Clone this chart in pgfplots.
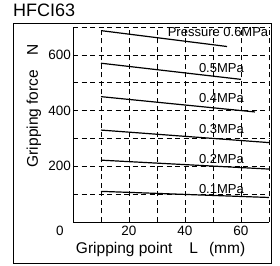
\documentclass[border=0pt]{standalone}
\usepackage{fontspec}
\setmainfont{Liberation Sans}
\usepackage{pgfplots}
\pgfplotsset{compat=1.18}
\begin{document}
\begin{tikzpicture}
\begin{axis}[
  width=196bp, height=195bp, scale only axis,
  xmin=0, xmax=70, ymin=0, ymax=700,
  axis x line=bottom, axis y line=left,
  axis line style={-, line width=0.9bp},
  xtick={20,40,60}, ytick={200,400,600},
  extra x ticks={0},
  extra x tick style={grid=none, xticklabel style={xshift=-13bp}},
  major tick length=0pt,
  grid=none,
  /pgf/number format/assume math mode=true,
  tick label style={font=\fontsize{13.5bp}{15bp}\selectfont},
  xticklabel style={inner sep=0pt, yshift=-4bp},
  yticklabel style={inner sep=0pt, xshift=-2bp},
  xlabel={Gripping point\hspace{17bp}L\hspace{11bp}(mm)},
  ylabel={Gripping force\hspace{14bp}N},
  label style={font=\fontsize{15.5bp}{18bp}\selectfont},
  xlabel style={at={(axis description cs:0.447,-0.14)}, anchor=center},
  ylabel style={at={(axis description cs:-0.2,0.595)}, anchor=center},
  clip=false,
]
% dashed grid
\foreach \yy in {100,200,300,400,500,600,700} {
  \edef\tmp{\noexpand\draw[black, line width=0.7bp, dash pattern=on 5bp off 3.5bp] (axis cs:0,\yy) -- (axis cs:70,\yy);}
  \tmp
}
\foreach \xx in {10,20,30,40,50,60,70} {
  \edef\tmp{\noexpand\draw[black, line width=0.7bp, dash pattern=on 5bp off 3.5bp] (axis cs:\xx,0) -- (axis cs:\xx,700);}
  \tmp
}
\addplot[black, line width=1.2bp] coordinates {(10,687) (55,630)};
\addplot[black, line width=1.2bp] coordinates {(10,570) (60,512)};
\addplot[black, line width=1.2bp] coordinates {(10,450) (65,395)};
\addplot[black, line width=1.2bp] coordinates {(10,330) (70,285)};
\addplot[black, line width=1.2bp] coordinates {(10,222) (70,190)};
\addplot[black, line width=1.2bp] coordinates {(10,110) (70,88)};
\begin{scope}[every node/.style={font=\fontsize{13bp}{15bp}\selectfont, inner sep=0pt}]
\node[anchor=east] at (axis cs:69.8,682) {Pressure 0.6MPa};
\node at (axis cs:53,553) {0.5MPa};
\node at (axis cs:53,446) {0.4MPa};
\node at (axis cs:53,334) {0.3MPa};
\node at (axis cs:53,226) {0.2MPa};
\node at (axis cs:53,118) {0.1MPa};
\end{scope}
\coordinate (O) at (axis cs:0,0);
\coordinate (T) at (axis cs:70,700);
\coordinate (TL) at (axis cs:0,700);
\end{axis}
\draw[line width=0.9bp] ([xshift=-60bp,yshift=-41bp]O) rectangle ([xshift=2bp,yshift=4bp]T);
\node[anchor=base west, inner sep=0pt, font=\fontsize{18bp}{20bp}\selectfont] at ([xshift=-60bp,yshift=10bp]TL) {HFCI63};
\pgfresetboundingbox
\useasboundingbox ([xshift=-73bp,yshift=-44bp]O) rectangle ([xshift=11bp,yshift=27bp]T);
\end{tikzpicture}
\end{document}
